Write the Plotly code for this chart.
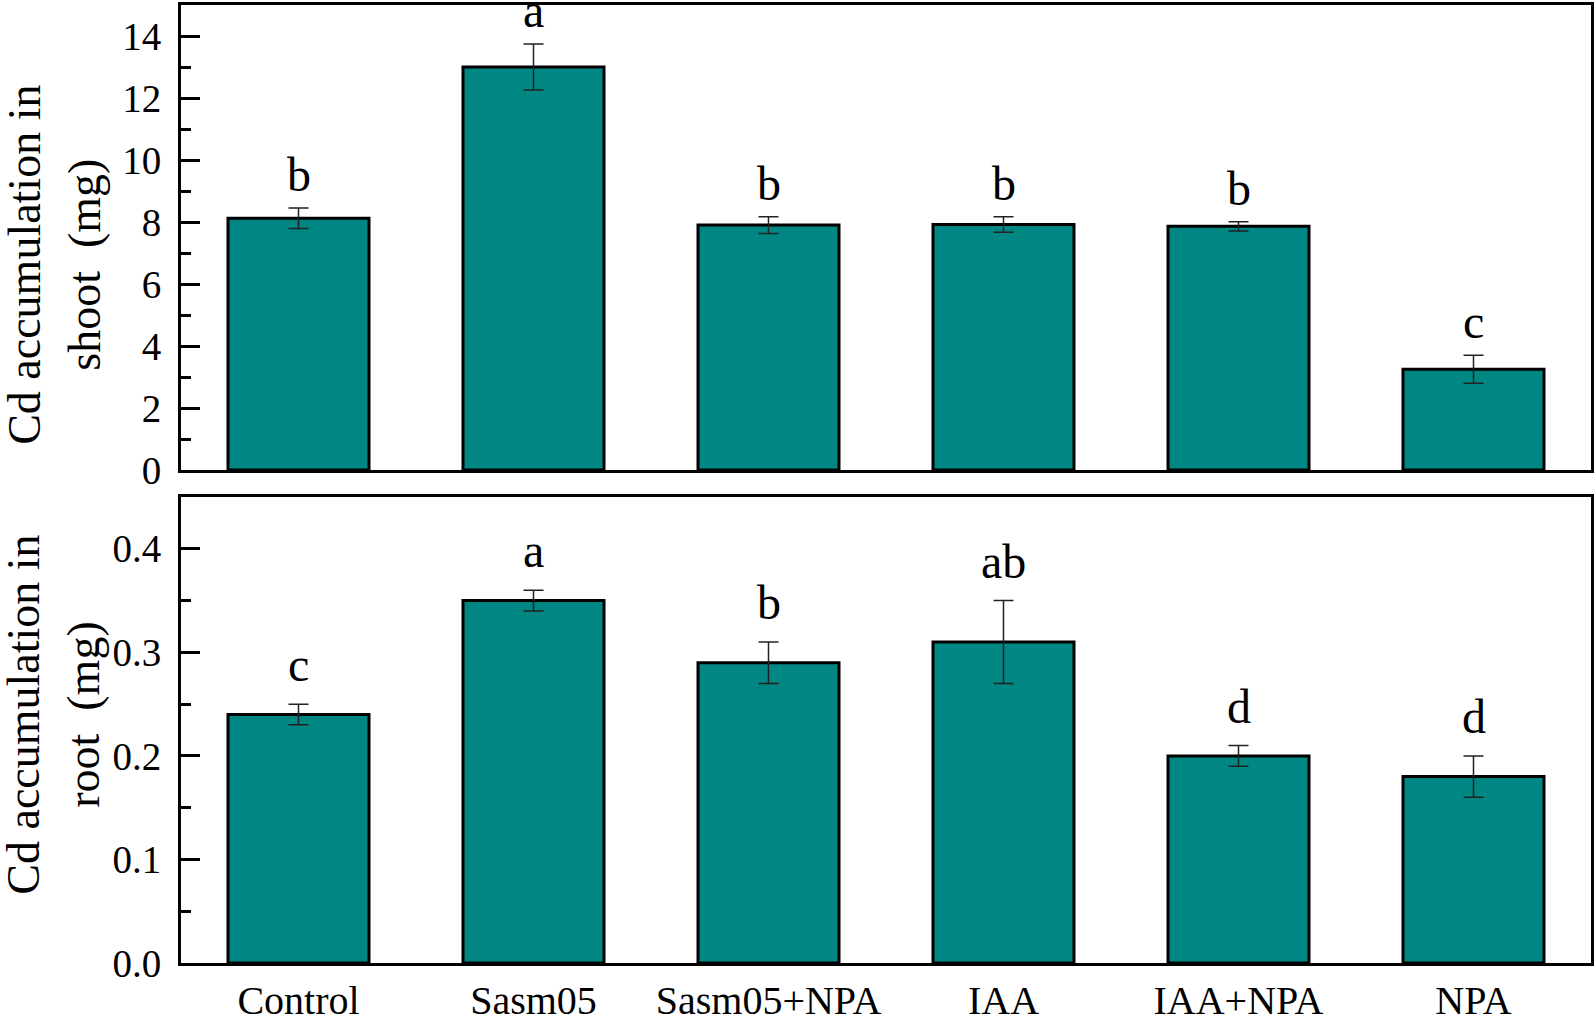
import plotly.graph_objects as go
from plotly.subplots import make_subplots

treatments = ["Control", "Sasm05", "Sasm05+NPA", "IAA", "IAA+NPA", "NPA"]

shoot_cd = [8.12, 13.0, 7.9, 7.92, 7.86, 3.25]
shoot_err = [0.33, 0.74, 0.27, 0.25, 0.15, 0.45]
shoot_letters = ["b", "a", "b", "b", "b", "c"]

root_cd = [0.24, 0.35, 0.29, 0.31, 0.20, 0.18]
root_err = [0.01, 0.01, 0.02, 0.04, 0.01, 0.02]
root_letters = ["c", "a", "b", "ab", "d", "d"]

FONT = "Liberation Serif"
TEAL = "#008783"

fig = make_subplots(rows=2, cols=1, shared_xaxes=False, vertical_spacing=0.028)

def add_panel(vals, errs, row):
    fig.add_trace(go.Bar(
        x=treatments, y=vals, width=0.6,
        marker=dict(color=TEAL, line=dict(color="black", width=3)),
        error_y=dict(type="data", array=errs, visible=True,
                     color="#222222", thickness=1.5, width=10),
        showlegend=False,
    ), row=row, col=1)

add_panel(shoot_cd, shoot_err, 1)
add_panel(root_cd, root_err, 2)

# significance letters over the error bars
for t, v, e, s in zip(treatments, shoot_cd, shoot_err, shoot_letters):
    fig.add_annotation(x=t, y=v + e, xref="x", yref="y", text=s, showarrow=False,
                       yanchor="bottom", yshift=5, font=dict(family=FONT, size=48, color="black"))
for t, v, e, s in zip(treatments, root_cd, root_err, root_letters):
    fig.add_annotation(x=t, y=v + e, xref="x2", yref="y2", text=s, showarrow=False,
                       yanchor="bottom", yshift=11, font=dict(family=FONT, size=48, color="black"))

# y-axis titles as rotated two-line annotations
fig.add_annotation(x=-0.0902, y=0.7286, xref="paper", yref="paper",
                   text="Cd accumulation in<br>shoot  (mg)", textangle=-90, showarrow=False,
                   xanchor="center", yanchor="middle",
                   font=dict(family=FONT, size=46, color="black"))
fig.add_annotation(x=-0.0902, y=0.259, xref="paper", yref="paper",
                   text="Cd accumulation in<br>root  (mg)", textangle=-90, showarrow=False,
                   xanchor="center", yanchor="middle",
                   font=dict(family=FONT, size=46, color="black"))

axis_line = dict(showline=True, linecolor="black", linewidth=3, mirror=True,
                 showgrid=False, zeroline=False, automargin=False)

fig.update_xaxes(**axis_line, range=[-0.5, 5.5], ticks="")
fig.update_xaxes(showticklabels=False, row=1, col=1)
fig.update_xaxes(showticklabels=True, tickfont=dict(family=FONT, size=40, color="black"),
                 ticklabelstandoff=0, row=2, col=1)

fig.update_yaxes(**axis_line, ticks="inside", ticklen=19, tickwidth=3, tickcolor="black",
                 tickfont=dict(family=FONT, size=39, color="black"), ticklabelstandoff=9)
fig.update_yaxes(range=[0, 15], dtick=2, tick0=0, domain=[0.5146, 1.0],
                 minor=dict(dtick=1, ticks="inside", ticklen=10, tickwidth=3, tickcolor="black"),
                 row=1, col=1)
fig.update_yaxes(range=[0, 0.45], dtick=0.1, tick0=0, tickformat=".1f", domain=[0.0, 0.4864],
                 minor=dict(dtick=0.05, ticks="inside", ticklen=10, tickwidth=3, tickcolor="black"),
                 row=2, col=1)

fig.update_layout(
    width=1596, height=1018,
    margin=dict(l=181, r=5, t=5, b=55),
    plot_bgcolor="white", paper_bgcolor="white",
    font=dict(family=FONT, color="black"),
    bargap=0.4,
)

# drop the default page margin so the figure sits at the window corner
fig.write_html("out.html", config={"displayModeBar": False},
               post_script="document.body.style.margin='0px';")
